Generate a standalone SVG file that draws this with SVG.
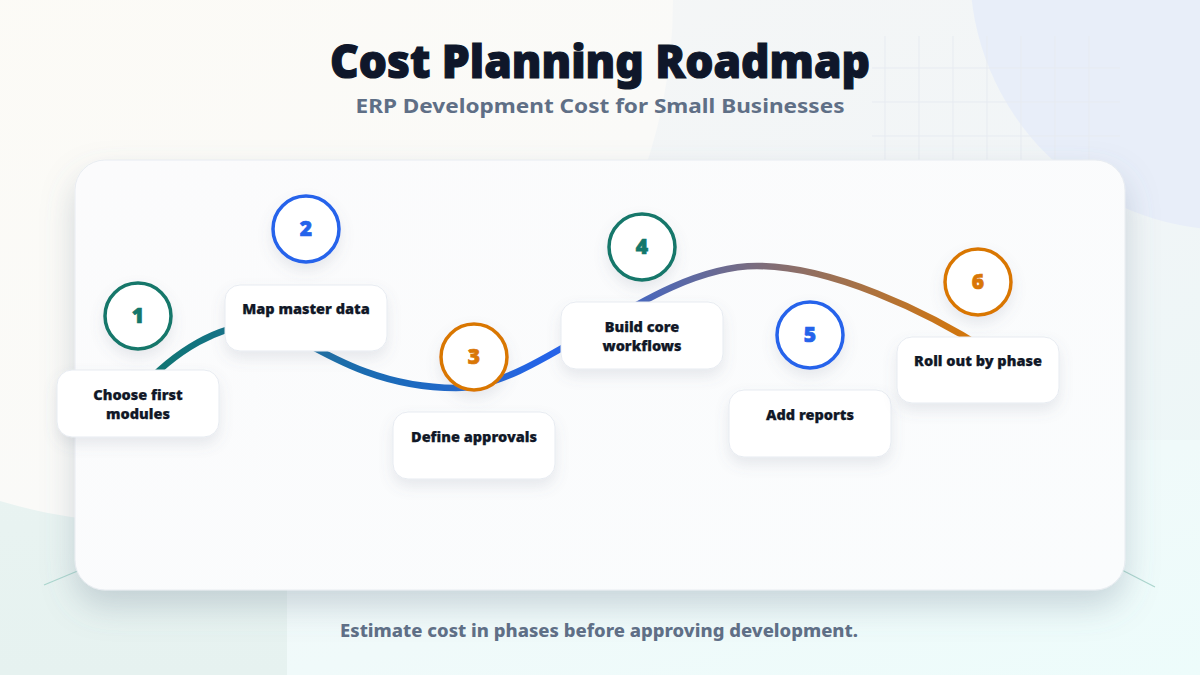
<svg xmlns="http://www.w3.org/2000/svg" width="1200" height="675" viewBox="0 0 1200 675">
<defs>
<style>
.lbl{font-family:"Noto Sans","Open Sans",sans-serif;font-weight:900;font-size:14.5px;fill:#111827;text-anchor:middle;stroke:#111827;stroke-width:0.25}
.num{font-family:"Noto Sans","Open Sans",sans-serif;font-weight:900;font-size:21px;text-anchor:middle;stroke-width:0.7}
.box{fill:#ffffff;stroke:#e7ebf1;stroke-width:1}
.ring{fill:#ffffff;stroke-width:3.5}
.grid line{stroke:#e7ebf1;stroke-width:1}
</style>
<linearGradient id="bg" x1="0" y1="0" x2="1" y2="1">
<stop offset="0" stop-color="#f7f7f6"/>
<stop offset="0.6" stop-color="#f1f5f7"/>
<stop offset="1" stop-color="#eaf8f7"/>
</linearGradient>
<linearGradient id="bl" x1="0" y1="0" x2="0" y2="1">
<stop offset="0" stop-color="#eaf4f2"/>
<stop offset="1" stop-color="#e6f2f0"/>
</linearGradient>
<linearGradient id="br" x1="0" y1="0" x2="1" y2="1">
<stop offset="0" stop-color="#f3f8f9"/>
<stop offset="1" stop-color="#edfcfb"/>
</linearGradient>
<radialGradient id="cream" cx="0.3" cy="0.2" r="0.8">
<stop offset="0" stop-color="#fdfbf5"/>
<stop offset="1" stop-color="#fafaf8"/>
</radialGradient>
<linearGradient id="card" x1="0" y1="0" x2="1" y2="1">
<stop offset="0" stop-color="#fbfbfc"/>
<stop offset="1" stop-color="#fafcfd"/>
</linearGradient>
<linearGradient id="wave" gradientUnits="userSpaceOnUse" x1="140" y1="0" x2="975" y2="0">
<stop offset="0" stop-color="#0f766e"/>
<stop offset="0.5" stop-color="#2563eb"/>
<stop offset="1" stop-color="#d97706"/>
</linearGradient>
<filter id="cardShadow" x="-10%" y="-10%" width="120%" height="130%">
<feDropShadow dx="0" dy="16" stdDeviation="16" flood-color="#64748b" flood-opacity="0.28"/>
</filter>
<filter id="soft" x="-30%" y="-30%" width="160%" height="180%">
<feDropShadow dx="0" dy="7" stdDeviation="7" flood-color="#64748b" flood-opacity="0.14"/>
</filter>
</defs>

<!-- background -->
<rect x="0" y="0" width="1200" height="675" fill="url(#bg)"/>
<rect x="0" y="380" width="300" height="295" fill="url(#bl)"/>
<rect x="287" y="440" width="913" height="235" fill="url(#br)"/>
<circle cx="150" cy="0" r="523" fill="url(#cream)"/>
<circle cx="1230" cy="-30" r="260" fill="#e8eef9"/>
<g class="grid">
<line x1="872" y1="68" x2="1120" y2="68"/>
<line x1="872" y1="102" x2="1120" y2="102"/>
<line x1="872" y1="136" x2="1120" y2="136"/>
<line x1="885" y1="36" x2="885" y2="160"/>
<line x1="919" y1="36" x2="919" y2="160"/>
<line x1="953" y1="36" x2="953" y2="160"/>
<line x1="987" y1="36" x2="987" y2="160"/>
<line x1="1021" y1="36" x2="1021" y2="160"/>
<line x1="1055" y1="36" x2="1055" y2="160"/>
<line x1="1089" y1="36" x2="1089" y2="160"/>
</g>
<line x1="44" y1="585" x2="80" y2="570" stroke="#acd6ce" stroke-width="1.2"/>
<line x1="1120" y1="569" x2="1155" y2="587" stroke="#acd6ce" stroke-width="1.2"/>

<!-- header -->
<text x="600" y="78" text-anchor="middle" font-family="'Noto Sans', 'Open Sans', sans-serif" font-weight="900" font-size="46" fill="#0f172a" stroke="#0f172a" stroke-width="1.2" textLength="540" lengthAdjust="spacingAndGlyphs">Cost Planning Roadmap</text>
<text x="600" y="113" text-anchor="middle" font-family="'Noto Sans', 'Open Sans', sans-serif" font-weight="700" font-size="20" fill="#5f6f86" textLength="489" lengthAdjust="spacingAndGlyphs">ERP Development Cost for Small Businesses</text>

<!-- card -->
<rect x="75" y="160" width="1050" height="430" rx="30" fill="url(#card)" stroke="#e8ecf1" stroke-width="1" filter="url(#cardShadow)"/>

<!-- connectors -->
<g id="connectors">
<path d="M138 392 C175 350 220 324 262 324 C290 324 350 388 456 388 C540 388 650 266 757 266 C830 266 925 310 990 352" fill="none" stroke="url(#wave)" stroke-width="6.5" stroke-linecap="round"/>
</g>

<!-- nodes -->
<g id="step1">
<rect class="box" x="57" y="370" width="162" height="67" rx="15" filter="url(#soft)"/>
<text class="lbl" x="138" y="400">Choose first</text>
<text class="lbl" x="138" y="419">modules</text>
<circle class="ring" cx="138" cy="316" r="33" stroke="#13776b" filter="url(#soft)"/>
<text class="num" x="138" y="323" fill="#13776b" stroke="#13776b">1</text>
</g>
<g id="step2">
<rect class="box" x="225" y="285" width="162" height="66" rx="15" filter="url(#soft)"/>
<text class="lbl" x="306" y="314">Map master data</text>
<circle class="ring" cx="306" cy="229" r="33" stroke="#2563eb" filter="url(#soft)"/>
<text class="num" x="306" y="236" fill="#2563eb" stroke="#2563eb">2</text>
</g>
<g id="step3">
<rect class="box" x="393" y="412" width="162" height="67" rx="15" filter="url(#soft)"/>
<text class="lbl" x="474" y="442">Define approvals</text>
<circle class="ring" cx="474" cy="357" r="33" stroke="#d97706" filter="url(#soft)"/>
<text class="num" x="474" y="364" fill="#d97706" stroke="#d97706">3</text>
</g>
<g id="step4">
<rect class="box" x="561" y="302" width="162" height="67" rx="15" filter="url(#soft)"/>
<text class="lbl" x="642" y="332">Build core</text>
<text class="lbl" x="642" y="351">workflows</text>
<circle class="ring" cx="642" cy="247" r="33" stroke="#13776b" filter="url(#soft)"/>
<text class="num" x="642" y="254" fill="#13776b" stroke="#13776b">4</text>
</g>
<g id="step5">
<rect class="box" x="729" y="390" width="162" height="67" rx="15" filter="url(#soft)"/>
<text class="lbl" x="810" y="420">Add reports</text>
<circle class="ring" cx="810" cy="335" r="33" stroke="#2563eb" filter="url(#soft)"/>
<text class="num" x="810" y="342" fill="#2563eb" stroke="#2563eb">5</text>
</g>
<g id="step6">
<rect class="box" x="897" y="337" width="162" height="66" rx="15" filter="url(#soft)"/>
<text class="lbl" x="978" y="366">Roll out by phase</text>
<circle class="ring" cx="978" cy="282" r="33" stroke="#d97706" filter="url(#soft)"/>
<text class="num" x="978" y="289" fill="#d97706" stroke="#d97706">6</text>
</g>

<!-- footer -->
<text x="599" y="637" text-anchor="middle" font-family="'Noto Sans', 'Open Sans', sans-serif" font-weight="800" font-size="17" fill="#5f6f86" textLength="518" lengthAdjust="spacingAndGlyphs">Estimate cost in phases before approving development.</text>
</svg>
